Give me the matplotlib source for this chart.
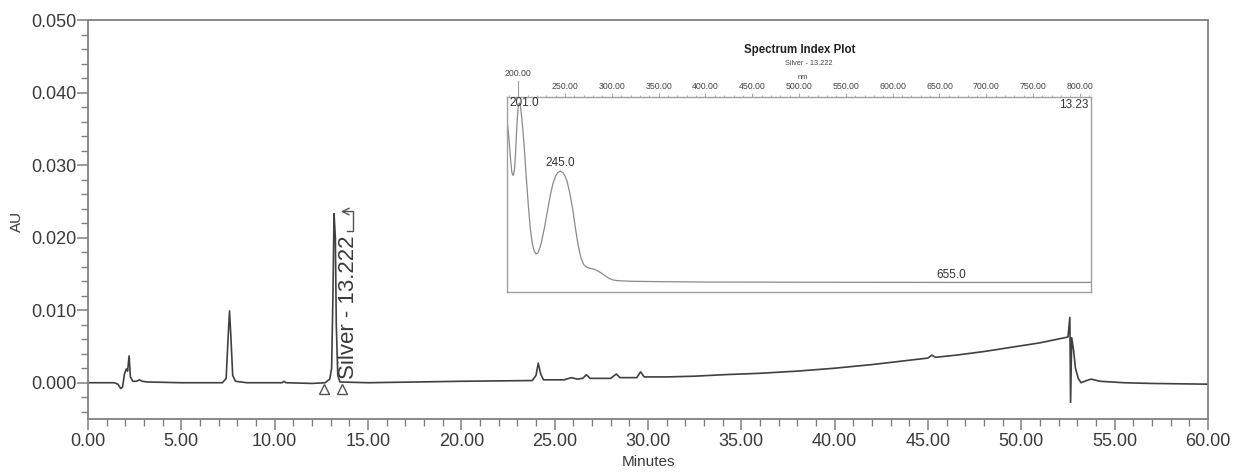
import numpy as np
import matplotlib.pyplot as plt
from matplotlib.ticker import MultipleLocator, FormatStrFormatter

plt.rcParams['font.family'] = ['Liberation Sans', 'DejaVu Sans']

# chromatogram trace, minutes vs AU
minutes = [0.0, 1.4, 1.6, 1.75, 1.85, 1.95, 2.05, 2.12, 2.2, 2.27, 2.4, 2.6, 2.75, 2.9, 3.2,
           5.0, 7.2, 7.4, 7.5, 7.58, 7.65, 7.75, 7.9, 8.5, 10.4, 10.5, 10.6, 12.0, 12.7,
           12.95, 13.05, 13.12, 13.18, 13.25, 13.3, 13.38, 13.5, 15.0, 20.0, 23.8, 24.0,
           24.12, 24.25, 24.4, 25.5, 25.9, 26.2, 26.5, 26.7, 26.9, 28.0, 28.3, 28.5, 29.4,
           29.6, 29.8, 31.0, 32.5, 34.0, 36.0, 38.0, 40.0, 42.0, 44.0, 45.0, 45.2, 45.4,
           46.5, 48.0, 49.5, 51.0, 52.5, 52.6, 52.64, 52.7, 52.8, 52.9, 53.05, 53.2, 53.5,
           53.75, 54.2, 55.5, 57.0, 60.0]
au = [0.0, 0.0, -0.0002, -0.0008, -0.0006, 0.0012, 0.0019, 0.0016, 0.0037, 0.0008, 0.0002,
      0.0002, 0.0004, 0.0002, 0.0001, 0.0, 0.0, 0.0006, 0.0060, 0.0099, 0.0065, 0.0010,
      0.0002, 0.0, 0.0, 0.0002, 0.0, -0.0001, 0.0, 0.0005, 0.0020, 0.0120, 0.0233, 0.0200,
      0.0080, 0.0010, 0.0001, 0.0, 0.0002, 0.0003, 0.0010, 0.0027, 0.0012, 0.0004, 0.0004,
      0.0007, 0.0005, 0.0006, 0.0011, 0.0006, 0.0006, 0.0012, 0.0007, 0.0007, 0.0015,
      0.0008, 0.0008, 0.0009, 0.0011, 0.0013, 0.0016, 0.0020, 0.0025, 0.0031, 0.0034,
      0.0038, 0.0035, 0.0038, 0.0043, 0.0049, 0.0055, 0.0063, 0.0090, -0.0027, 0.0062,
      0.0045, 0.0020, 0.0006, 0.0, 0.0003, 0.0005, 0.0002, 0.0, -0.0001, -0.0002]

peak_name = "Silver - 13.222"
peak_rt = 13.18
peak_au = 0.0233
peak_start, peak_end = 12.65, 13.62

# UV spectrum at the peak apex (nm vs relative absorbance)
wavelength = [188, 189, 190, 191, 192, 193, 194, 195, 196, 197, 198, 199, 200, 201, 202, 203,
              205, 207, 209, 211, 213, 215, 217, 219, 221, 223, 225, 228, 231, 234, 237, 240,
              242, 245, 248, 250, 252, 255, 258, 261, 264, 267, 270, 273, 277, 281, 285, 289,
              293, 297, 301, 306, 320, 350, 400, 500, 655, 812]
absorb = [0.88, 0.84, 0.79, 0.73, 0.67, 0.62, 0.60, 0.60, 0.63, 0.70, 0.80, 0.89, 0.95, 0.97,
          0.96, 0.93, 0.83, 0.70, 0.56, 0.43, 0.32, 0.25, 0.21, 0.195, 0.20, 0.225, 0.26,
          0.33, 0.41, 0.49, 0.555, 0.595, 0.612, 0.62, 0.61, 0.595, 0.57, 0.51, 0.43, 0.33,
          0.24, 0.175, 0.14, 0.127, 0.121, 0.117, 0.108, 0.096, 0.082, 0.07, 0.062, 0.058,
          0.055, 0.053, 0.051, 0.05, 0.049, 0.049]
spec_labels = [(190.4, 0.97, "201.0", 'left'), (245, 0.66, "245.0", 'center'),
               (663, 0.087, "655.0", 'center')]

dark = '#3a3a3a'
frame = '#808080'

fig = plt.figure(figsize=(12.33, 4.72), dpi=100)
ax = fig.add_axes([0.0714, 0.1123, 0.9083, 0.8453])
ax.plot(minutes, au, color='#404040', lw=1.2)
ax.set_xlim(0, 60)
ax.set_ylim(-0.005, 0.050)
ax.xaxis.set_major_locator(MultipleLocator(5))
ax.xaxis.set_minor_locator(MultipleLocator(1))
ax.yaxis.set_major_locator(MultipleLocator(0.01))
ax.yaxis.set_minor_locator(MultipleLocator(0.002))
ax.xaxis.set_major_formatter(FormatStrFormatter('%.2f'))
ax.yaxis.set_major_formatter(FormatStrFormatter('%.3f'))
ax.tick_params(which='major', length=8, width=1.1, color=frame, labelsize=13, labelcolor=dark)
ax.tick_params(axis='y', which='major', pad=0.5)
ax.tick_params(axis='x', which='major', pad=2)
ax.tick_params(which='minor', length=5, width=1.0, color=frame)
for s in ax.spines.values():
    s.set_color(frame)
    s.set_linewidth(1.3)
ax.set_xlabel("Minutes", fontsize=11, color=dark, labelpad=4)
ax.set_ylabel("AU", fontsize=11, color=dark)
ax.yaxis.set_label_coords(-0.057, 0.494)

# peak start/end markers and the peak label with its leader
ax.plot([peak_start, peak_end], [-0.0009, -0.0009], ls='none', marker='^', ms=7,
        mfc='white', mec='#555555', mew=1.0)
ax.text(13.98, 0.00055, peak_name, rotation=90, ha='center', va='bottom',
        fontsize=16, color=dark)
ax.plot([13.85, 14.22, 14.22], [0.0209, 0.0209, 0.0236], color='#555555', lw=1.0)
ax.annotate('', xy=(peak_rt + 0.37, peak_au + 0.0003), xytext=(14.22, peak_au + 0.0003),
            arrowprops=dict(arrowstyle='->', color='#555555', lw=1.0,
                            mutation_scale=12, shrinkA=0, shrinkB=0))

# spectrum inset
ins = fig.add_axes([0.4112, 0.3814, 0.4737, 0.4131])
ins.plot(wavelength, absorb, color='#8a8a8a', lw=0.9)
ins.set_xlim(188, 812)
ins.set_ylim(0, 1)
ins.set_yticks([])
ins.xaxis.tick_top()
ins.set_xticks(np.arange(250, 801, 50))
ins.xaxis.set_minor_locator(MultipleLocator(10))
ins.xaxis.set_major_formatter(FormatStrFormatter('%.2f'))
ins.tick_params(axis='x', which='major', length=3, width=0.6, color='#999999',
                labelsize=6.3, labelcolor='#444444', pad=1.5)
ins.tick_params(axis='x', which='minor', length=1.5, width=0.5, color='#999999')
for s in ins.spines.values():
    s.set_color('#a0a0a0')
    s.set_linewidth(1.0)
ins.plot([200, 200], [1.0, 1.08], color='#999999', lw=0.8, clip_on=False)
ins.text(200, 1.095, "200.00", ha='center', va='bottom', fontsize=6.3, color='#444444')
for x, y, s, ha in spec_labels:
    ins.text(x, y, s, ha=ha, va='center', fontsize=8.5, color='#333333')
ins.text(809, 0.96, "13.23", ha='right', va='center', fontsize=8.5, color='#333333')

fig.text(0.649, 0.894, "Spectrum Index Plot", ha='center', va='center', fontsize=8.3,
         fontweight='bold', color='#222222')
fig.text(0.656, 0.866, "Silver - 13.222", ha='center', va='center', fontsize=5.3, color='#444444')
fig.text(0.651, 0.835, "nm", ha='center', va='center', fontsize=5.3, color='#444444')

fig.savefig("out.png", dpi=100)
